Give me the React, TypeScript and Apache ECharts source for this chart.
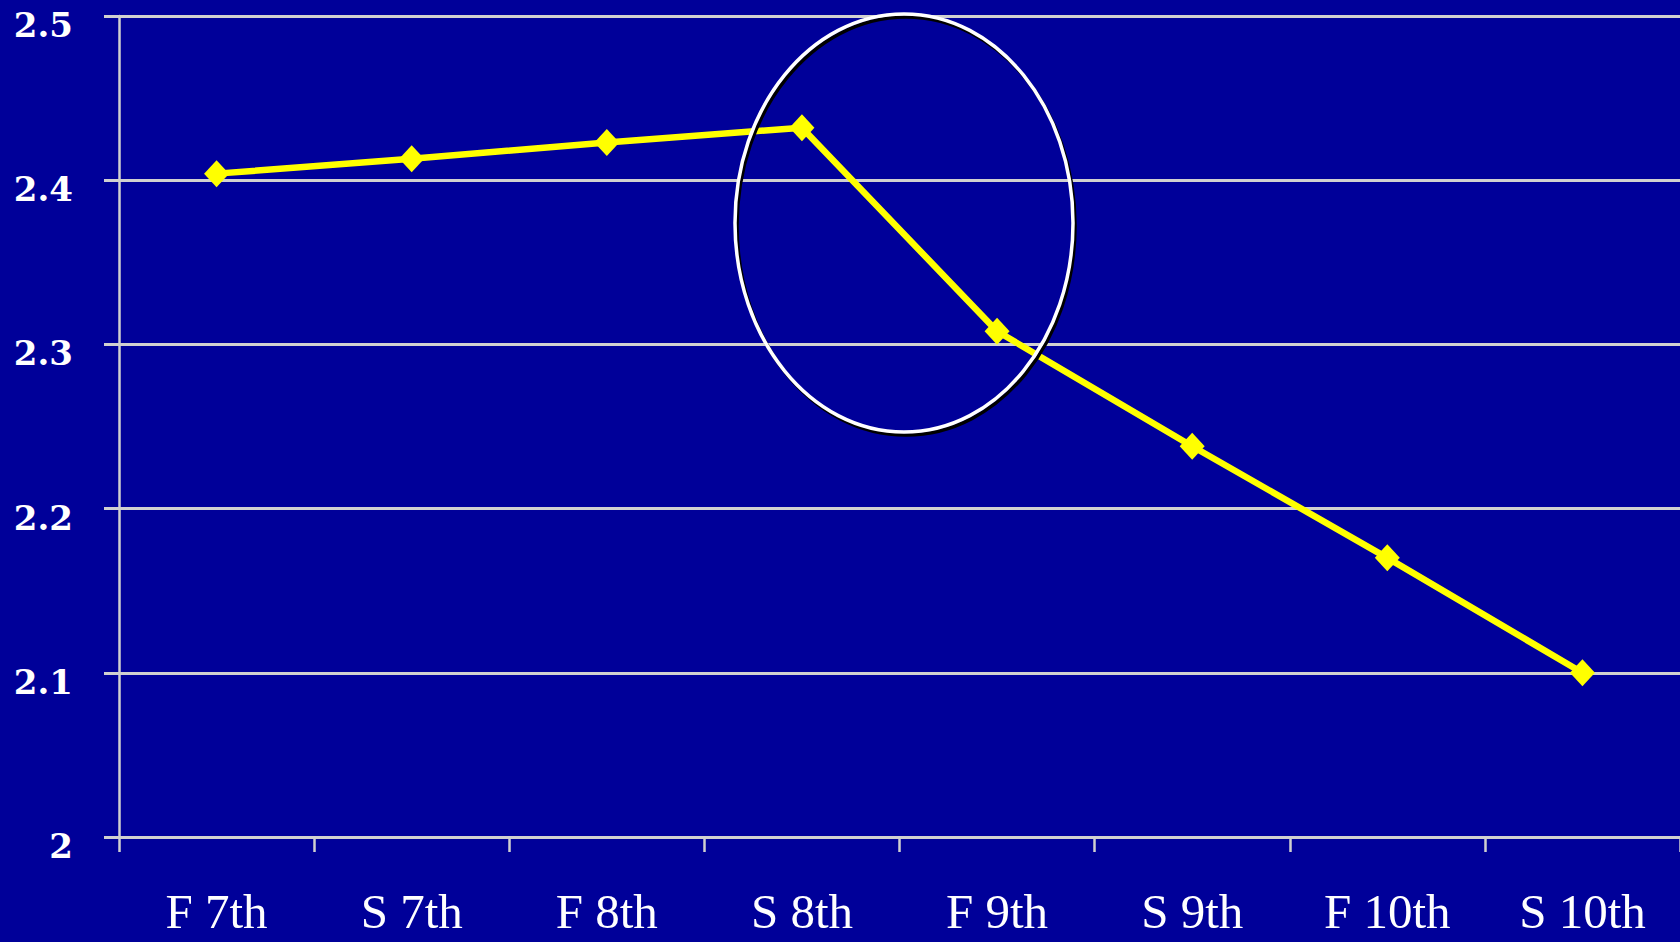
import React, { useEffect, useRef } from "react";
import * as echarts from "echarts";

const categories = ["F 7th", "S 7th", "F 8th", "S 8th", "F 9th", "S 9th", "F 10th", "S 10th"];
const values = [2.404, 2.413, 2.423, 2.432, 2.308, 2.238, 2.17, 2.1];
const yMin = 2;
const yMax = 2.5;
const yStep = 0.1;

export default function App() {
  const ref = useRef<HTMLDivElement>(null);
  useEffect(() => {
    if (!ref.current) return;
    const chart = echarts.init(ref.current, null, { renderer: "svg" });
    const grey = "#D0D0D0";
    chart.setOption({
      animation: false,
      backgroundColor: "#000099",
      grid: { left: 119, right: 0, top: 16, bottom: 105, containLabel: false },
      xAxis: {
        type: "category",
        data: categories,
        boundaryGap: true,
        axisLine: { show: true, lineStyle: { color: grey, width: 3 } },
        axisTick: { show: true, length: 15, lineStyle: { color: grey, width: 2.5 } },
        axisLabel: {
          color: "#FFFFFF",
          fontFamily: "Liberation Serif",
          fontSize: 49,
          margin: 50,
        },
        splitLine: { show: false },
      },
      yAxis: {
        type: "value",
        min: yMin,
        max: yMax,
        interval: yStep,
        axisLine: { show: true, lineStyle: { color: grey, width: 2.5 } },
        axisTick: { show: true, length: 15, lineStyle: { color: grey, width: 3 } },
        axisLabel: {
          color: "#FFFFFF",
          fontFamily: "DejaVu Serif",
          fontWeight: "bold",
          fontSize: 34,
          margin: 46,
          verticalAlign: "top",
          lineHeight: 18,
        },
        splitLine: { show: true, lineStyle: { color: grey, width: 3 } },
      },
      series: [
        {
          type: "line",
          data: values,
          symbol: "diamond",
          symbolSize: [25, 27],
          lineStyle: { color: "#FFFF00", width: 6.5 },
          itemStyle: { color: "#FFFF00" },
          z: 3,
        },
      ],
      graphic: [
        {
          type: "ellipse",
          shape: { cx: 906, cy: 226, rx: 169, ry: 209 },
          style: { fill: "none", stroke: "#000000", lineWidth: 3.5 },
          z: 10,
        },
        {
          type: "ellipse",
          shape: { cx: 904, cy: 223, rx: 169, ry: 209 },
          style: { fill: "none", stroke: "#FFFFFF", lineWidth: 3.5 },
          z: 11,
        },
      ],
    });
    return () => chart.dispose();
  }, []);
  return (
    <div
      ref={ref}
      style={{ position: "fixed", left: 0, top: 0, width: 1680, height: 942 }}
    />
  );
}
